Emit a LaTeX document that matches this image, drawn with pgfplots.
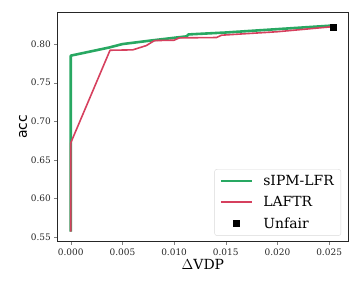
\documentclass[border=0pt]{standalone}
\usepackage{pgfplots}
\pgfplotsset{compat=1.18}
\usepackage{fontspec}
\setmainfont{DejaVu Serif}
\setsansfont{DejaVu Sans}
\definecolor{cgreen}{RGB}{40,168,98}
\definecolor{cred}{RGB}{214,64,94}
\pgfplotsset{
  longline/.style={legend image code/.code={\draw[##1] (0cm,0cm) -- (1.1cm,0cm);}},
  midmark/.style={legend image code/.code={\draw[##1] plot coordinates {(0.55cm,0cm)};}},
}
\begin{document}
\begin{tikzpicture}
\path[use as bounding box] (-58pt,-47pt) rectangle (303pt,242pt);
\begin{axis}[
  scale only axis, width=291pt, height=230pt,
  xmin=-0.00125, xmax=0.02683, ymin=0.5444, ymax=0.8416,
  scaled x ticks=false, scaled y ticks=false,
  xtick={0,0.005,0.01,0.015,0.02,0.025},
  xticklabels={0.000,0.005,0.010,0.015,0.020,0.025},
  ytick={0.55,0.6,0.65,0.7,0.75,0.8},
  yticklabels={0.55,0.60,0.65,0.70,0.75,0.80},
  /pgf/number format/assume math mode=true,
  tick label style={font=\fontsize{9}{10}\selectfont, text=black!85},
  tick align=outside, tick pos=left,
  major tick length=3.5pt,
  axis line style={black!85, line width=0.8pt},
  xlabel={$\Delta$VDP}, xlabel style={font=\fontsize{14}{16}\selectfont, yshift=3pt},
  ylabel={\sffamily acc}, ylabel style={font=\fontsize{14}{16}\selectfont, yshift=-3pt},
  legend style={font=\fontsize{14}{16}\selectfont, draw=black!15, rounded corners=2.5pt, row sep=5.5pt, column sep=8pt, inner xsep=5pt, inner ysep=4pt, at={(0.976,0.024)}, anchor=south east},
  legend cell align=left,
]
\addplot[cgreen, line width=2.6pt, line join=round, longline] coordinates {
 (0,0.557) (0,0.785) (0.0037,0.7955) (0.005,0.800) (0.008,0.805) (0.0112,0.810) (0.0114,0.8125) (0.015,0.815) (0.0253,0.824)
};
\addlegendentry{sIPM-LFR}
\addplot[cred, line width=1.6pt, line join=round, longline] coordinates {
 (0,0.557) (0,0.672) (0.0038,0.792) (0.0060,0.7925) (0.0073,0.798) (0.0081,0.8045) (0.0100,0.805) (0.0105,0.808) (0.0141,0.8085) (0.0146,0.8115) (0.020,0.816) (0.0253,0.8225)
};
\addlegendentry{LAFTR}
\addplot[only marks, mark=square*, mark size=3pt, black, midmark] coordinates {(0.0254,0.8225)};
\addlegendentry{Unfair}
\end{axis}
\end{tikzpicture}
\end{document}
